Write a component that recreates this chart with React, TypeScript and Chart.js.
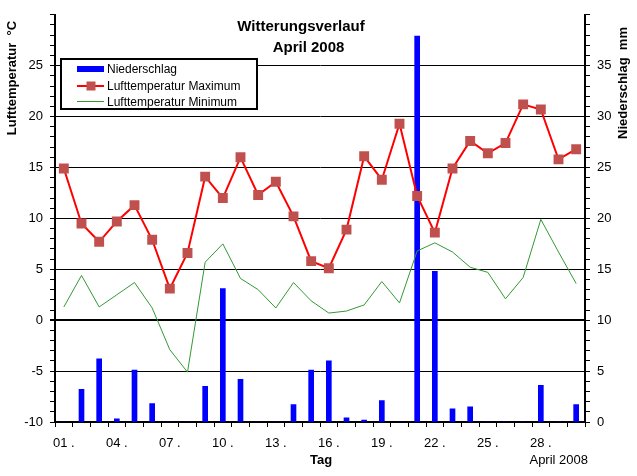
import React, { useEffect, useRef } from 'react';
import { Chart, registerables } from 'chart.js';

Chart.register(...registerables);

const days = [
  '01 .', '02 .', '03 .', '04 .', '05 .', '06 .', '07 .', '08 .', '09 .', '10 .',
  '11 .', '12 .', '13 .', '14 .', '15 .', '16 .', '17 .', '18 .', '19 .', '20 .',
  '21 .', '22 .', '23 .', '24 .', '25 .', '26 .', '27 .', '28 .', '29 .', '30 .',
];

const precipitation = [
  0, 3.2, 6.2, 0.3, 5.1, 1.8, 0, 0, 3.5, 13.1,
  4.2, 0, 0, 1.7, 5.1, 6.0, 0.4, 0.2, 2.1, 0,
  37.9, 14.8, 1.3, 1.5, 0, 0, 0, 3.6, 0, 1.7,
];

const tempMax = [
  14.9, 9.5, 7.7, 9.7, 11.3, 7.9, 3.1, 6.6, 14.1, 12.0,
  16.0, 12.3, 13.6, 10.2, 5.8, 5.1, 8.9, 16.1, 13.8, 19.3,
  12.2, 8.6, 14.9, 17.6, 16.4, 17.4, 21.2, 20.7, 15.8, 16.8,
];

const tempMin = [
  1.3, 4.4, 1.3, 2.5, 3.7, 1.2, -2.9, -5.1, 5.7, 7.5,
  4.1, 3.0, 1.2, 3.7, 1.9, 0.7, 0.9, 1.5, 3.8, 1.7,
  6.8, 7.6, 6.7, 5.2, 4.7, 2.1, 4.2, 9.9, 6.7, 3.6,
];

const titleLines = ['Witterungsverlauf', 'April 2008'];
const legendLabels = ['Niederschlag', 'Lufttemperatur Maximum', 'Lufttemperatur Minimum'];
const leftAxisTitle = 'Lufttemperatur  °C';
const rightAxisTitle = 'Niederschlag  mm';
const xAxisTitle = 'Tag';
const xAxisNote = 'April 2008';

const FONT = "'Liberation Sans', Arial, sans-serif";
const BLUE = '#0000FF';
const RED = '#FF0000';
const MARKER = '#C0504D';
const GREEN = '#339933';

export default function App() {
  const ref = useRef<HTMLCanvasElement>(null);

  useEffect(() => {
    document.body.style.margin = '0';
    const canvas = ref.current!;

    const overlay = {
      id: 'overlay',
      afterDraw(chart: any) {
        const ctx = chart.ctx as CanvasRenderingContext2D;
        ctx.save();
        ctx.fillStyle = '#000';
        ctx.textBaseline = 'alphabetic';

        // Title
        ctx.font = `bold 15px ${FONT}`;
        ctx.textAlign = 'center';
        ctx.fillText(titleLines[0], 301, 31);
        ctx.fillText(titleLines[1], 308.5, 52);

        // Legend box
        ctx.fillStyle = '#fff';
        ctx.fillRect(61, 59, 196, 50);
        ctx.strokeStyle = '#000';
        ctx.lineWidth = 2;
        ctx.strokeRect(61, 59, 196, 50);

        ctx.fillStyle = BLUE;
        ctx.fillRect(77, 66, 27, 6);

        ctx.strokeStyle = RED;
        ctx.lineWidth = 2;
        ctx.beginPath();
        ctx.moveTo(77, 86);
        ctx.lineTo(104, 86);
        ctx.stroke();
        ctx.fillStyle = MARKER;
        ctx.fillRect(86.5, 81.5, 9, 9);

        ctx.strokeStyle = GREEN;
        ctx.lineWidth = 1;
        ctx.beginPath();
        ctx.moveTo(77, 101.5);
        ctx.lineTo(104, 101.5);
        ctx.stroke();

        ctx.fillStyle = '#000';
        ctx.font = `12px ${FONT}`;
        ctx.textAlign = 'left';
        ctx.fillText(legendLabels[0], 107, 73);
        ctx.fillText(legendLabels[1], 107, 90);
        ctx.fillText(legendLabels[2], 107, 105.5);

        // Axis titles
        ctx.font = `bold 13px ${FONT}`;
        ctx.textAlign = 'center';
        ctx.textBaseline = 'middle';
        ctx.save();
        ctx.translate(12, 78);
        ctx.rotate(-Math.PI / 2);
        ctx.fillText(leftAxisTitle, 0, 0);
        ctx.restore();

        ctx.save();
        ctx.translate(623, 83);
        ctx.rotate(-Math.PI / 2);
        ctx.fillText(rightAxisTitle, 0, 0);
        ctx.restore();

        ctx.textBaseline = 'alphabetic';
        ctx.fillText(xAxisTitle, 321, 464);
        ctx.font = `13px ${FONT}`;
        ctx.textAlign = 'right';
        ctx.fillText(xAxisNote, 588, 464);

        ctx.restore();
      },
    };

    const chart = new Chart(canvas, {
      type: 'bar',
      data: {
        labels: days,
        datasets: [
          {
            type: 'line',
            label: legendLabels[1],
            data: tempMax,
            yAxisID: 'y',
            borderColor: RED,
            borderWidth: 2,
            pointStyle: 'rect',
            pointRadius: 7,
            pointBackgroundColor: MARKER,
            pointBorderColor: MARKER,
            pointBorderWidth: 0,
            tension: 0,
            order: 1,
          } as any,
          {
            type: 'line',
            label: legendLabels[2],
            data: tempMin,
            yAxisID: 'y',
            borderColor: GREEN,
            borderWidth: 1,
            pointRadius: 0,
            tension: 0,
            order: 2,
          } as any,
          {
            type: 'bar',
            label: legendLabels[0],
            data: precipitation,
            yAxisID: 'y2',
            backgroundColor: BLUE,
            barThickness: 5,
            order: 3,
          } as any,
        ],
      },
      options: {
        responsive: false,
        animation: false,
        events: [],
        layout: { padding: { top: 7, left: 0, right: 0, bottom: 0 } },
        plugins: {
          legend: { display: false },
          title: { display: false },
          tooltip: { enabled: false },
        },
        scales: {
          x: {
            offset: true,
            grid: {
              offset: true,
              drawOnChartArea: false,
              tickColor: '#000',
              tickLength: 5,
              lineWidth: 1,
            },
            border: { color: '#000', width: 2 },
            ticks: {
              autoSkip: false,
              maxRotation: 0,
              minRotation: 0,
              padding: 9,
              color: '#000',
              font: { family: FONT, size: 13 },
              callback: (_v: any, i: number) => (i % 3 === 0 ? days[i] : ''),
            },
            afterFit: (s: any) => {
              s.height = 54;
            },
          },
          y: {
            position: 'left',
            min: -10,
            max: 30,
            grid: {
              color: (c: any) => {
                const v = Math.round(c.tick.value);
                return v % 5 === 0 && v !== 30 && v !== -10 ? '#000' : 'rgba(0,0,0,0)';
              },
              lineWidth: (c: any) => (Math.round(c.tick.value) === 0 ? 2 : 1),
              tickColor: '#000',
              tickLength: 5,
            },
            border: { color: '#000', width: 2 },
            ticks: {
              stepSize: 1,
              autoSkip: false,
              padding: 7,
              color: '#000',
              font: { family: FONT, size: 13 },
              callback: (v: any) => {
                const r = Math.round(Number(v));
                return r % 5 === 0 && r !== 30 ? String(r) : '';
              },
            },
            afterFit: (s: any) => {
              s.width = 55;
            },
          },
          y2: {
            position: 'right',
            min: 0,
            max: 40,
            grid: {
              drawOnChartArea: false,
              tickColor: '#000',
              tickLength: 5,
            },
            border: { color: '#000', width: 2 },
            ticks: {
              stepSize: 1,
              autoSkip: false,
              padding: 7,
              color: '#000',
              font: { family: FONT, size: 13 },
              callback: (v: any) => {
                const r = Math.round(Number(v));
                return r % 5 === 0 && r !== 40 ? String(r) : '';
              },
            },
            afterFit: (s: any) => {
              s.width = 52;
            },
          },
        },
      } as any,
      plugins: [overlay],
    });

    return () => chart.destroy();
  }, []);

  return (
    <div style={{ width: 637, height: 476 }}>
      <canvas ref={ref} width={637} height={476} style={{ display: 'block' }} />
    </div>
  );
}
